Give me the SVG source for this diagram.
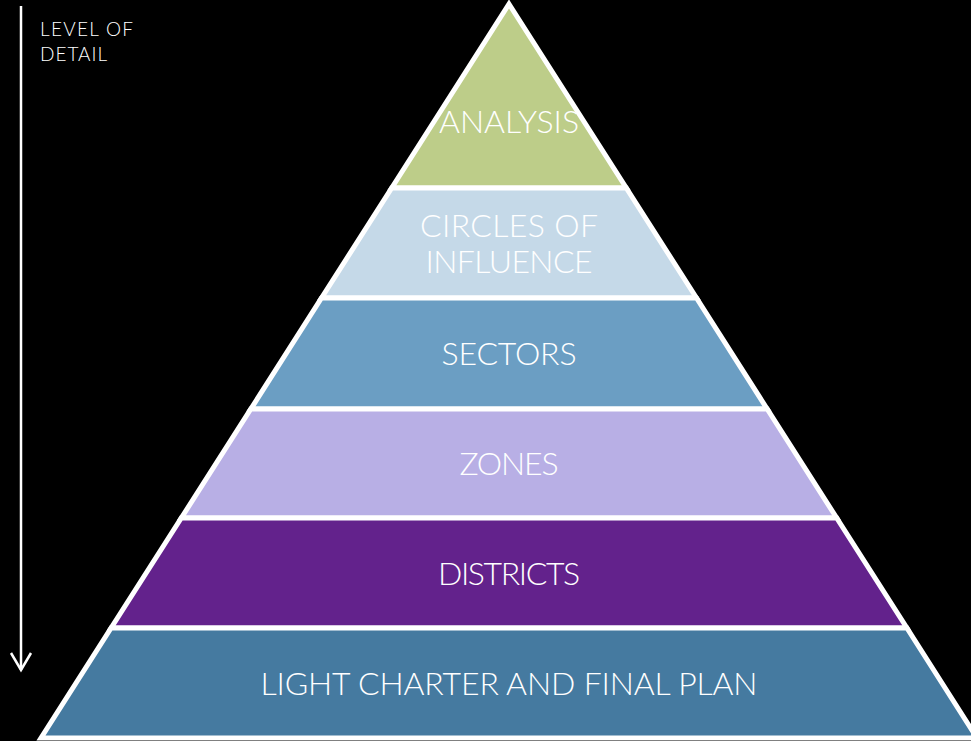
<svg xmlns="http://www.w3.org/2000/svg" width="971" height="741" viewBox="0 0 971 741">
<style>
.layer{stroke:#ffffff;stroke-width:5;stroke-linejoin:miter}
.lbl{font-family:Lato,"Open Sans","Liberation Sans",sans-serif;font-weight:300;font-size:32px;fill:#ffffff;text-anchor:middle}
.side{font-family:Lato,"Open Sans","Liberation Sans",sans-serif;font-weight:300;font-size:19px;fill:#ffffff}
</style>
<rect x="0" y="0" width="971" height="741" fill="#000000"/>
<g id="arrow">
<line x1="21" y1="6" x2="21" y2="670" stroke="#ffffff" stroke-width="2.5"/>
<polyline points="11,653 21,670 31,653" fill="none" stroke="#ffffff" stroke-width="2.5"/>
<text class="side" x="40" y="36" textLength="93">LEVEL OF</text>
<text class="side" x="40" y="61" textLength="67">DETAIL</text>
</g>
<g id="analysis">
<polygon class="layer" fill="#BDCD89" points="509,4 626.3,188 391.7,188"/>
<text class="lbl" x="509" y="133" textLength="140">ANALYSIS</text>
</g>
<g id="circles">
<polygon class="layer" fill="#C5D9E8" points="391.7,188 626.3,188 696.5,298 321.5,298"/>
<text class="lbl" x="509" y="237" textLength="178">CIRCLES OF</text>
<text class="lbl" x="509" y="273" textLength="167">INFLUENCE</text>
</g>
<g id="sectors">
<polygon class="layer" fill="#6B9EC3" points="321.5,298 696.5,298 767.2,409 250.8,409"/>
<text class="lbl" x="509" y="365" textLength="135">SECTORS</text>
</g>
<g id="zones">
<polygon class="layer" fill="#B8AFE5" points="250.8,409 767.2,409 836.7,518 181.3,518"/>
<text class="lbl" x="509" y="475" textLength="99">ZONES</text>
</g>
<g id="districts">
<polygon class="layer" fill="#63228C" points="181.3,518 836.7,518 906.9,628 111.1,628"/>
<text class="lbl" x="509" y="585" textLength="142">DISTRICTS</text>
</g>
<g id="final">
<polygon class="layer" fill="#457AA0" points="111.1,628 906.9,628 977,738 41,738"/>
<text class="lbl" x="509" y="695" textLength="497">LIGHT CHARTER AND FINAL PLAN</text>
</g>
</svg>
